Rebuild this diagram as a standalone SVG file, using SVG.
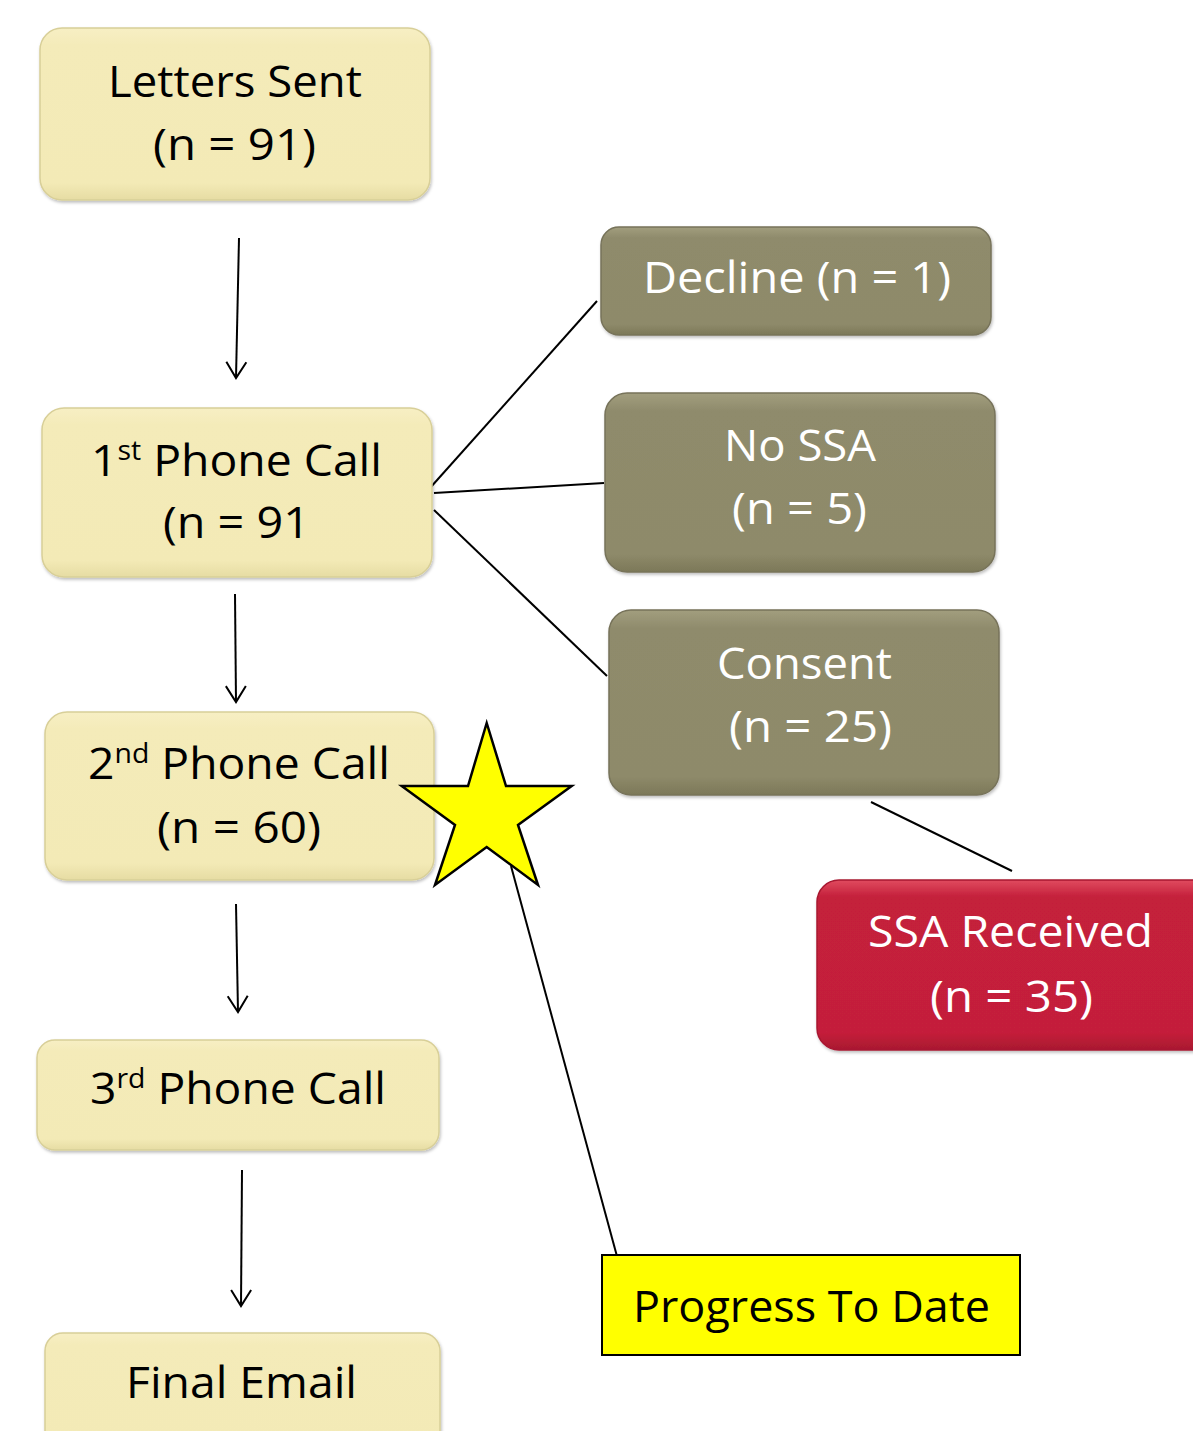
<svg xmlns="http://www.w3.org/2000/svg" width="1193" height="1431" viewBox="0 0 1193 1431">
<defs>
<linearGradient id="gCream" x1="0" y1="0" x2="0" y2="1">
<stop offset="0" stop-color="#f7efc4"/><stop offset="0.1" stop-color="#f4ebb9"/><stop offset="0.9" stop-color="#f3eab6"/><stop offset="1" stop-color="#e6dca3"/>
</linearGradient>
<linearGradient id="gOlive" x1="0" y1="0" x2="0" y2="1">
<stop offset="0" stop-color="#a29e7e"/><stop offset="0.1" stop-color="#8f8b6c"/><stop offset="0.9" stop-color="#8e8a6a"/><stop offset="1" stop-color="#7c7858"/>
</linearGradient>
<linearGradient id="gRed" x1="0" y1="0" x2="0" y2="1">
<stop offset="0" stop-color="#e04a5f"/><stop offset="0.1" stop-color="#c4203b"/><stop offset="0.9" stop-color="#c41f3a"/><stop offset="1" stop-color="#a81830"/>
</linearGradient>
<filter id="sh" x="-10%" y="-10%" width="120%" height="130%">
<feDropShadow dx="1" dy="2" stdDeviation="1.5" flood-color="#000" flood-opacity="0.25"/>
</filter>
<marker id="arr" viewBox="0 0 24 24" refX="19" refY="12" markerWidth="24" markerHeight="24" markerUnits="userSpaceOnUse" orient="auto">
<path d="M3,2 L19,12 L3,22" fill="none" stroke="#000" stroke-width="2"/>
</marker>
</defs>
<style>
.cream{fill:url(#gCream);stroke:#d8cf98;stroke-width:1.5;filter:url(#sh)}
.olive{fill:url(#gOlive);stroke:#77735a;stroke-width:1.5;filter:url(#sh)}
.red{fill:url(#gRed);stroke:#a81830;stroke-width:1.5;filter:url(#sh)}
text{font-family:"Open Sans","Noto Sans","Liberation Sans",sans-serif;font-size:44px;text-anchor:middle}
.dk{fill:#000}
.wt{fill:#fff}
.sup{font-size:27px}
.ln{stroke:#000;stroke-width:2;fill:none}
</style>
<rect width="1193" height="1431" fill="#fff"/>
<g id="connectors">
<line class="ln" x1="239" y1="238" x2="236" y2="378" marker-end="url(#arr)"/>
<line class="ln" x1="235" y1="594" x2="236" y2="702" marker-end="url(#arr)"/>
<line class="ln" x1="236" y1="904" x2="238" y2="1012" marker-end="url(#arr)"/>
<line class="ln" x1="242" y1="1170" x2="241" y2="1306" marker-end="url(#arr)"/>
<line class="ln" x1="430" y1="488" x2="597" y2="301"/>
<line class="ln" x1="434" y1="493" x2="604" y2="483"/>
<line class="ln" x1="434" y1="510" x2="607" y2="676"/>
<line class="ln" x1="871" y1="802" x2="1012" y2="871"/>
<line class="ln" x1="511" y1="866" x2="618" y2="1260"/>
</g>
<g id="letters-sent">
<rect class="cream" x="40" y="28" width="390" height="172" rx="22"/>
<text class="dk" x="235" y="97" textLength="254" lengthAdjust="spacingAndGlyphs">Letters Sent</text>
<text class="dk" x="234.5" y="160" textLength="163" lengthAdjust="spacingAndGlyphs">(n = 91)</text>
</g>
<g id="phone-call-1">
<rect class="cream" x="42" y="408" width="390" height="169" rx="22"/>
<text class="dk" x="236.5" y="476" textLength="291" lengthAdjust="spacingAndGlyphs">1<tspan class="sup" dy="-16">st</tspan><tspan dy="16"> Phone Call</tspan></text>
<text class="dk" x="236.5" y="538" textLength="147" lengthAdjust="spacingAndGlyphs">(n = 91</text>
</g>
<g id="phone-call-2">
<rect class="cream" x="45" y="712" width="389" height="168" rx="22"/>
<text class="dk" x="239" y="779" textLength="302" lengthAdjust="spacingAndGlyphs">2<tspan class="sup" dy="-16">nd</tspan><tspan dy="16"> Phone Call</tspan></text>
<text class="dk" x="239" y="843" textLength="164" lengthAdjust="spacingAndGlyphs">(n = 60)</text>
</g>
<g id="phone-call-3">
<rect class="cream" x="37" y="1040" width="402" height="110" rx="18"/>
<text class="dk" x="238" y="1104" textLength="296" lengthAdjust="spacingAndGlyphs">3<tspan class="sup" dy="-16">rd</tspan><tspan dy="16"> Phone Call</tspan></text>
</g>
<g id="final-email">
<rect class="cream" x="45" y="1333" width="395" height="120" rx="18"/>
<text class="dk" x="241.5" y="1398" textLength="231" lengthAdjust="spacingAndGlyphs">Final Email</text>
</g>
<g id="decline">
<rect class="olive" x="601" y="227" width="390" height="108" rx="18"/>
<text class="wt" x="797" y="293" textLength="308" lengthAdjust="spacingAndGlyphs">Decline (n = 1)</text>
</g>
<g id="no-ssa">
<rect class="olive" x="605" y="393" width="390" height="179" rx="22"/>
<text class="wt" x="800" y="461" textLength="152" lengthAdjust="spacingAndGlyphs">No SSA</text>
<text class="wt" x="799.5" y="524" textLength="135" lengthAdjust="spacingAndGlyphs">(n = 5)</text>
</g>
<g id="consent">
<rect class="olive" x="609" y="610" width="390" height="185" rx="22"/>
<text class="wt" x="804.5" y="679" textLength="175" lengthAdjust="spacingAndGlyphs">Consent</text>
<text class="wt" x="810.5" y="742" textLength="163" lengthAdjust="spacingAndGlyphs">(n = 25)</text>
</g>
<g id="ssa-received">
<rect class="red" x="817" y="880" width="400" height="170" rx="22"/>
<text class="wt" x="1010.5" y="947" textLength="285" lengthAdjust="spacingAndGlyphs">SSA Received</text>
<text class="wt" x="1011.5" y="1012" textLength="163" lengthAdjust="spacingAndGlyphs">(n = 35)</text>
</g>
<g id="star">
<polygon points="486.7,723 506,786 571.7,786 518,825 538,885 486.7,847 435,885 455,825 401.7,786 468,786" fill="#ffff00" stroke="#000" stroke-width="2.5" stroke-linejoin="miter"/>
</g>
<g id="progress-to-date">
<rect x="602" y="1255" width="418" height="100" fill="#ffff00" stroke="#000" stroke-width="2"/>
<text class="dk" x="811.5" y="1322" textLength="357" lengthAdjust="spacingAndGlyphs">Progress To Date</text>
</g>
</svg>
